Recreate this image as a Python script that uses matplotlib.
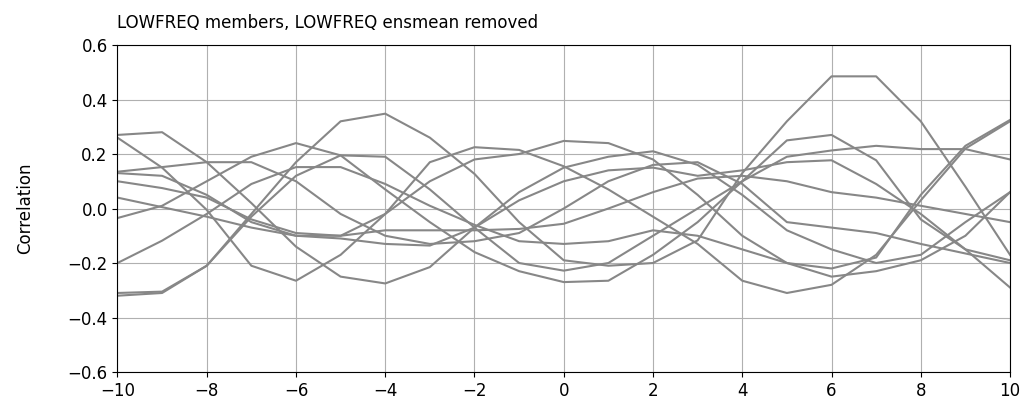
import matplotlib
matplotlib.use("Agg")
import matplotlib.pyplot as plt
import numpy as np

lags = np.arange(-10, 11)

# correlation of each member vs lag
m01 = [0.27, 0.28, 0.17, 0.02, -0.14, -0.25, -0.275, -0.215, -0.07, 0.06, 0.15, 0.19, 0.21, 0.16, 0.05, -0.08, -0.15, -0.2, -0.17, -0.05, 0.06]
m02 = [0.26, 0.15, -0.005, -0.21, -0.265, -0.17, -0.02, 0.17, 0.225, 0.215, 0.155, 0.07, -0.03, -0.13, -0.265, -0.31, -0.28, -0.17, 0.03, 0.22, 0.32]
m03 = [-0.035, 0.01, 0.1, 0.19, 0.24, 0.195, 0.07, -0.05, -0.16, -0.23, -0.27, -0.265, -0.17, -0.05, 0.1, 0.25, 0.27, 0.177, -0.04, -0.15, -0.19]
m04 = [-0.32, -0.31, -0.21, -0.02, 0.17, 0.32, 0.348, 0.26, 0.127, -0.05, -0.19, -0.21, -0.2, -0.117, 0.13, 0.32, 0.485, 0.485, 0.32, 0.08, -0.17]
m05 = [-0.31, -0.305, -0.21, -0.03, 0.12, 0.195, 0.19, 0.07, -0.07, -0.2, -0.228, -0.2, -0.1, 0.0, 0.1, 0.19, 0.213, 0.23, 0.218, 0.218, 0.18]
m06 = [0.10, 0.075, 0.04, -0.04, -0.09, -0.1, -0.08, -0.08, -0.08, -0.075, -0.056, 0.0, 0.06, 0.11, 0.12, 0.1, 0.06, 0.04, 0.01, -0.02, -0.05]
m07 = [0.04, 0.005, -0.03, -0.07, -0.1, -0.11, -0.13, -0.136, -0.07, 0.03, 0.1, 0.14, 0.15, 0.12, 0.14, 0.17, 0.177, 0.09, -0.02, -0.15, -0.29]
m08 = [0.135, 0.152, 0.17, 0.17, 0.1, -0.02, -0.1, -0.13, -0.12, -0.09, 0.0, 0.1, 0.16, 0.17, 0.09, -0.05, -0.07, -0.09, -0.13, -0.165, -0.2]
m09 = [0.13, 0.12, 0.05, -0.05, -0.1, -0.1, -0.02, 0.1, 0.18, 0.2, 0.248, 0.24, 0.18, 0.05, -0.1, -0.2, -0.25, -0.23, -0.19, -0.1, 0.06]
m10 = [-0.2, -0.118, -0.02, 0.09, 0.152, 0.152, 0.09, 0.01, -0.06, -0.12, -0.13, -0.12, -0.08, -0.1, -0.15, -0.2, -0.22, -0.18, 0.05, 0.23, 0.325]
members = [m01, m02, m03, m04, m05, m06, m07, m08, m09, m10]

fig = plt.figure(figsize=(10.25, 4.08), dpi=100)
ax = fig.add_axes([0.1146, 0.0882, 0.8708, 0.8015])
for m in members:
    ax.plot(lags, m, color="#878787", lw=1.5)

ax.set_xlim(-10, 10)
ax.set_ylim(-0.6, 0.6)
ax.set_xticks(np.arange(-10, 11, 2))
ax.set_yticks(np.arange(-0.6, 0.61, 0.2))
ax.grid(True)
ax.tick_params(labelsize=12)
ax.set_ylabel("Correlation", fontsize=12, labelpad=24)
ax.set_title("LOWFREQ members, LOWFREQ ensmean removed", loc="left", fontsize=12, pad=12)

fig.savefig("out.png", dpi=100)
